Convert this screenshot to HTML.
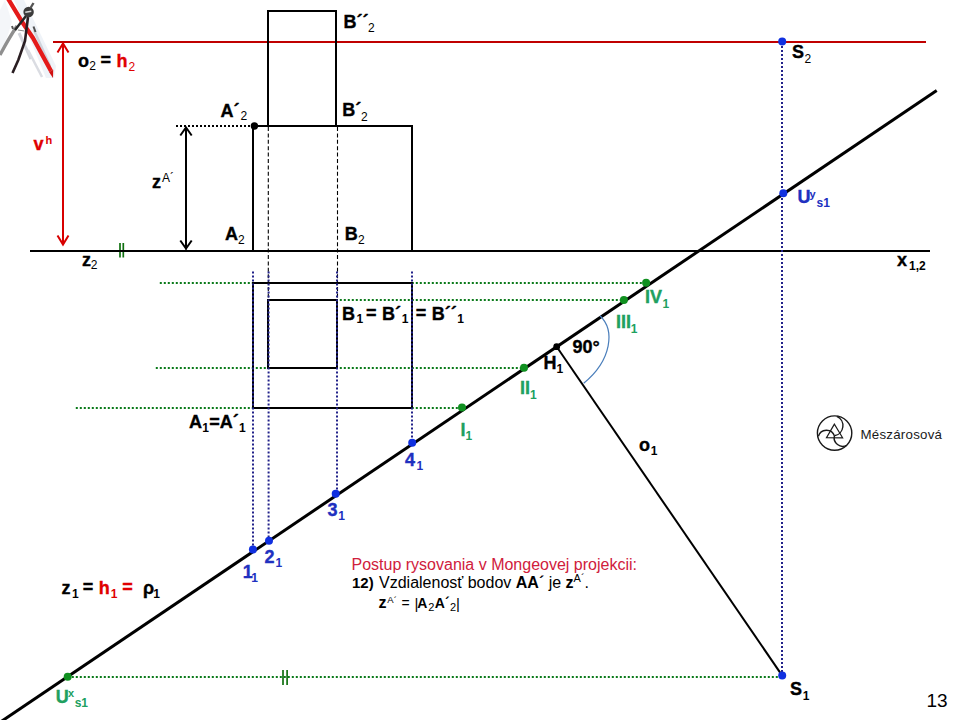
<!DOCTYPE html>
<html><head><meta charset="utf-8"><style>
html,body{margin:0;padding:0;background:#fff;width:960px;height:720px;overflow:hidden}
svg{display:block}
text{font-family:"Liberation Sans",sans-serif}
</style></head><body>
<svg width="960" height="720" viewBox="0 0 960 720">
<g>
<polygon points="14,0 24,0 56,66 54,78 46,78" fill="#eaeff5" opacity="0.75"/>
<polygon points="0,10 5,0 12,22 3,50 0,52" fill="#f0f2f6" opacity="0.7"/>
<line x1="34" y1="30" x2="50" y2="66" stroke="#cfd4dc" stroke-width="2.5"/>
<line x1="19" y1="33" x2="31" y2="59" stroke="#d4d6dc" stroke-width="3"/>
<line x1="28" y1="50" x2="42" y2="77" stroke="#dadce2" stroke-width="2.5"/>
<path d="M8.2 -1 L23 23.3 L33 38 L51 71" stroke="#E41A1A" stroke-width="4.3" fill="none" stroke-linejoin="round"/><polygon points="49,72 53.2,69.8 53,78" fill="#D01010"/>
<path d="M17 26 Q 9 38 0 55" stroke="#8f8f8f" stroke-width="3.3" fill="none"/>
<path d="M12 26 L13 29" stroke="#555" stroke-width="2"/>
<path d="M26 16 L15 30" stroke="#262626" stroke-width="2.5" fill="none"/>
<line x1="18" y1="30" x2="24.5" y2="31" stroke="#8a8a8a" stroke-width="1.2"/>
<path d="M28 17 L25 41 L18.3 60 L12.5 73" stroke="#2a1e22" stroke-width="2.6" fill="none"/>
<line x1="33.5" y1="26.5" x2="35.5" y2="32" stroke="#505050" stroke-width="2"/>
<circle cx="28.6" cy="12" r="5.2" fill="#3c3c3c"/>
<path d="M25.3 12.3 L31.3 11.3" stroke="#d8d8d8" stroke-width="1.4"/>
<line x1="33.5" y1="3" x2="30.5" y2="8" stroke="#555" stroke-width="2.4"/>
</g>
<line x1="159.8" y1="283" x2="646" y2="283" stroke="#0A7A1A" stroke-width="2" stroke-dasharray="2 2" stroke-linecap="butt"/>
<line x1="267.8" y1="300" x2="624" y2="300" stroke="#0A7A1A" stroke-width="2" stroke-dasharray="2 2" stroke-linecap="butt"/>
<line x1="155.8" y1="368" x2="524" y2="368" stroke="#0A7A1A" stroke-width="2" stroke-dasharray="2 2" stroke-linecap="butt"/>
<line x1="75.8" y1="408" x2="462" y2="408" stroke="#0A7A1A" stroke-width="2" stroke-dasharray="2 2" stroke-linecap="butt"/>
<line x1="67.8" y1="677" x2="782" y2="677" stroke="#0A7A1A" stroke-width="2" stroke-dasharray="2 2" stroke-linecap="butt"/>
<line x1="283" y1="670" x2="283" y2="685" stroke="#107010" stroke-width="1.7" stroke-linecap="butt"/>
<line x1="287.1" y1="670" x2="287.1" y2="685" stroke="#107010" stroke-width="1.7" stroke-linecap="butt"/>
<line x1="120" y1="243" x2="120" y2="257.5" stroke="#107010" stroke-width="1.7" stroke-linecap="butt"/>
<line x1="123.3" y1="243" x2="123.3" y2="257.5" stroke="#107010" stroke-width="1.7" stroke-linecap="butt"/>
<line x1="53" y1="42" x2="926" y2="42" stroke="#C00000" stroke-width="2" stroke-linecap="butt"/>
<line x1="63" y1="43" x2="63" y2="245" stroke="#D80000" stroke-width="2" stroke-linecap="butt"/>
<polyline points="57.5,52.5 63,43.5 68.5,52.5" fill="none" stroke="#D80000" stroke-width="2"/>
<polyline points="57.5,235.5 63,244.5 68.5,235.5" fill="none" stroke="#D80000" stroke-width="2"/>
<line x1="30" y1="251" x2="930" y2="251" stroke="#000" stroke-width="2.1" stroke-linecap="butt"/>
<rect x="268" y="11" width="68" height="115" fill="none" stroke="#000" stroke-width="2"/>
<rect x="253" y="126" width="159" height="125" fill="none" stroke="#000" stroke-width="2"/>
<line x1="268.3" y1="127" x2="268.3" y2="300" stroke="#000" stroke-width="1.1" stroke-dasharray="4 2.4" stroke-linecap="butt"/>
<line x1="337.5" y1="127" x2="337.5" y2="300" stroke="#000" stroke-width="1.1" stroke-dasharray="4 2.4" stroke-linecap="butt"/>
<line x1="176" y1="126" x2="253" y2="126" stroke="#000" stroke-width="2" stroke-dasharray="2 2" stroke-linecap="butt"/>
<circle cx="254.4" cy="126" r="3.7" fill="#000"/>
<line x1="186" y1="127" x2="186" y2="249.5" stroke="#000" stroke-width="2" stroke-linecap="butt"/>
<polyline points="180.3,135.5 186,127.5 191.7,135.5" fill="none" stroke="#000" stroke-width="2"/>
<polyline points="180.3,240.5 186,248.5 191.7,240.5" fill="none" stroke="#000" stroke-width="2"/>
<rect x="253" y="283" width="159" height="125" fill="none" stroke="#000" stroke-width="2"/>
<rect x="268" y="300" width="69" height="68" fill="none" stroke="#000" stroke-width="2"/>
<line x1="0" y1="722.3" x2="936.7" y2="90.49584999999996" stroke="#000" stroke-width="3" stroke-linecap="butt"/>
<line x1="556.7" y1="346.7" x2="782.2" y2="675.6" stroke="#000" stroke-width="2" stroke-linecap="butt"/>
<path d="M600 315.8 C 615 330, 612 360, 583.7 383.3" fill="none" stroke="#4A7EBB" stroke-width="1.2"/>
<line x1="253" y1="271.5" x2="253" y2="549.5" stroke="#22228A" stroke-width="2" stroke-dasharray="2 2" stroke-linecap="butt"/>
<line x1="268.6" y1="271.5" x2="268.6" y2="540.8" stroke="#22228A" stroke-width="2" stroke-dasharray="2 2" stroke-linecap="butt"/>
<line x1="337" y1="271.5" x2="337" y2="493.8" stroke="#22228A" stroke-width="2" stroke-dasharray="2 2" stroke-linecap="butt"/>
<line x1="412" y1="271.5" x2="412" y2="442.8" stroke="#22228A" stroke-width="2" stroke-dasharray="2 2" stroke-linecap="butt"/>
<line x1="782" y1="42" x2="782" y2="675.6" stroke="#22228A" stroke-width="2" stroke-dasharray="2 2" stroke-linecap="butt"/>
<circle cx="782.2" cy="41.6" r="4" fill="#1030E0"/>
<circle cx="783.3" cy="193.3" r="4" fill="#1030E0"/>
<circle cx="782.2" cy="675.6" r="4" fill="#1030E0"/>
<circle cx="252.9" cy="549.5" r="4" fill="#1030E0"/>
<circle cx="269" cy="540.8" r="4" fill="#1030E0"/>
<circle cx="335.7" cy="493.8" r="4" fill="#1030E0"/>
<circle cx="412.2" cy="442.8" r="4" fill="#1030E0"/>
<circle cx="646.1" cy="282.8" r="4" fill="#109020"/>
<circle cx="623.9" cy="300" r="4" fill="#109020"/>
<circle cx="524" cy="367.8" r="4" fill="#109020"/>
<circle cx="462" cy="407.6" r="4" fill="#109020"/>
<circle cx="67.7" cy="676.7" r="4" fill="#109020"/>
<circle cx="556.7" cy="346.7" r="3.4" fill="#000"/>
<text x="343.5" y="27.5" font-size="18" font-weight="bold" fill="#000" stroke="#000" stroke-width="0.35">B´´</text>
<text x="368" y="31.7" font-size="12" font-weight="normal" fill="#000">2</text>
<text x="78" y="67" font-size="18" font-weight="bold" fill="#000" stroke="#000" stroke-width="0.35">o</text>
<text x="89.3" y="70.4" font-size="12" font-weight="normal" fill="#000">2</text>
<text x="100.5" y="66" font-size="18" font-weight="bold" fill="#000" stroke="#000" stroke-width="0.35">=</text>
<text x="116.5" y="67" font-size="18" font-weight="bold" fill="#E00000" stroke="#E00000" stroke-width="0.35">h</text>
<text x="128.5" y="70.8" font-size="12" font-weight="normal" fill="#E00000">2</text>
<text x="220.5" y="116.7" font-size="18" font-weight="bold" fill="#000" stroke="#000" stroke-width="0.35">A´</text>
<text x="240.5" y="120.3" font-size="12" font-weight="normal" fill="#000">2</text>
<text x="342.3" y="116.2" font-size="18" font-weight="bold" fill="#000" stroke="#000" stroke-width="0.35">B´</text>
<text x="361" y="121.2" font-size="12" font-weight="normal" fill="#000">2</text>
<text x="33.5" y="149.9" font-size="18" font-weight="bold" fill="#E00000" stroke="#E00000" stroke-width="0.35">v</text>
<text x="45.5" y="144" font-size="11" font-weight="bold" fill="#E00000">h</text>
<text x="152" y="187.8" font-size="18" font-weight="bold" fill="#000" stroke="#000" stroke-width="0.35">z</text>
<text x="162" y="181.9" font-size="12" font-weight="normal" fill="#000">A´</text>
<text x="797.5" y="202.5" font-size="18" font-weight="bold" fill="#2030C0" stroke="#2030C0" stroke-width="0.35">U</text>
<text x="809.5" y="198.3" font-size="11" font-weight="bold" fill="#2030C0">y</text>
<text x="816.5" y="206.7" font-size="12" font-weight="bold" fill="#2030C0">s1</text>
<text x="225" y="240" font-size="18" font-weight="bold" fill="#000" stroke="#000" stroke-width="0.35">A</text>
<text x="238" y="243.7" font-size="12" font-weight="normal" fill="#000">2</text>
<text x="344.7" y="240" font-size="18" font-weight="bold" fill="#000" stroke="#000" stroke-width="0.35">B</text>
<text x="358" y="243.7" font-size="12" font-weight="normal" fill="#000">2</text>
<text x="82" y="265.6" font-size="18" font-weight="bold" fill="#000" stroke="#000" stroke-width="0.35">z</text>
<text x="90.7" y="269" font-size="12" font-weight="normal" fill="#000">2</text>
<text x="897" y="266" font-size="18" font-weight="bold" fill="#000" stroke="#000" stroke-width="0.35">x</text>
<text x="909" y="270" font-size="12" font-weight="bold" fill="#000">1,2</text>
<text x="645" y="303.3" font-size="18" font-weight="bold" fill="#20A060" stroke="#20A060" stroke-width="0.35">IV</text>
<text x="662.5" y="307.8" font-size="12" font-weight="bold" fill="#20A060">1</text>
<text x="616" y="328.3" font-size="18" font-weight="bold" fill="#20A060" stroke="#20A060" stroke-width="0.35">III</text>
<text x="630.7" y="332.8" font-size="12" font-weight="bold" fill="#20A060">1</text>
<text x="342" y="319.8" font-size="18" font-weight="bold" fill="#000" stroke="#000" stroke-width="0.35">B</text>
<text x="356.5" y="323.4" font-size="12" font-weight="bold" fill="#000">1</text>
<text x="366" y="319" font-size="18" font-weight="bold" fill="#000" stroke="#000" stroke-width="0.35">=</text>
<text x="382" y="319.8" font-size="18" font-weight="bold" fill="#000" stroke="#000" stroke-width="0.35">B´</text>
<text x="401.7" y="323.4" font-size="12" font-weight="bold" fill="#000">1</text>
<text x="415.7" y="319" font-size="18" font-weight="bold" fill="#000" stroke="#000" stroke-width="0.35">=</text>
<text x="431.7" y="319.8" font-size="18" font-weight="bold" fill="#000" stroke="#000" stroke-width="0.35">B´´</text>
<text x="457.2" y="323.4" font-size="12" font-weight="bold" fill="#000">1</text>
<text x="572.5" y="352.8" font-size="18" font-weight="bold" fill="#000" stroke="#000" stroke-width="0.35">90°</text>
<text x="543.5" y="369.4" font-size="18" font-weight="bold" fill="#000" stroke="#000" stroke-width="0.35">H</text>
<text x="556.5" y="373.3" font-size="12" font-weight="bold" fill="#000">1</text>
<text x="520" y="394.4" font-size="18" font-weight="bold" fill="#20A060" stroke="#20A060" stroke-width="0.35">II</text>
<text x="530" y="398.6" font-size="12" font-weight="bold" fill="#20A060">1</text>
<text x="460.5" y="436" font-size="18" font-weight="bold" fill="#20A060" stroke="#20A060" stroke-width="0.35">I</text>
<text x="465.5" y="440" font-size="12" font-weight="bold" fill="#20A060">1</text>
<text x="189" y="427.5" font-size="18" font-weight="bold" fill="#000" stroke="#000" stroke-width="0.35">A</text>
<text x="202.3" y="431.7" font-size="12" font-weight="bold" fill="#000">1</text>
<text x="209.3" y="427.8" font-size="18" font-weight="bold" fill="#000" stroke="#000" stroke-width="0.35">=</text>
<text x="219.7" y="427.5" font-size="18" font-weight="bold" fill="#000" stroke="#000" stroke-width="0.35">A´</text>
<text x="239" y="431.7" font-size="12" font-weight="bold" fill="#000">1</text>
<text x="639" y="450.9" font-size="18" font-weight="bold" fill="#000" stroke="#000" stroke-width="0.35">o</text>
<text x="650.7" y="454.7" font-size="12" font-weight="bold" fill="#000">1</text>
<text x="405" y="465.6" font-size="18" font-weight="bold" fill="#2030C0" stroke="#2030C0" stroke-width="0.35">4</text>
<text x="416.5" y="470" font-size="12" font-weight="bold" fill="#2030C0">1</text>
<text x="327.5" y="516" font-size="18" font-weight="bold" fill="#2030C0" stroke="#2030C0" stroke-width="0.35">3</text>
<text x="338.3" y="519.7" font-size="12" font-weight="bold" fill="#2030C0">1</text>
<text x="264.5" y="562.5" font-size="18" font-weight="bold" fill="#2030C0" stroke="#2030C0" stroke-width="0.35">2</text>
<text x="275.5" y="567" font-size="12" font-weight="bold" fill="#2030C0">1</text>
<text x="242.7" y="577.8" font-size="18" font-weight="bold" fill="#2030C0" stroke="#2030C0" stroke-width="0.35">1</text>
<text x="251.2" y="581.6" font-size="12" font-weight="bold" fill="#2030C0">1</text>
<text x="61.5" y="593.5" font-size="18" font-weight="bold" fill="#000" stroke="#000" stroke-width="0.35">z</text>
<text x="72" y="597.5" font-size="12" font-weight="bold" fill="#000">1</text>
<text x="82.7" y="593" font-size="18" font-weight="bold" fill="#000" stroke="#000" stroke-width="0.35">=</text>
<text x="98.8" y="593.5" font-size="18" font-weight="bold" fill="#E00000" stroke="#E00000" stroke-width="0.35">h</text>
<text x="110.8" y="597.5" font-size="12" font-weight="bold" fill="#E00000">1</text>
<text x="122.3" y="593" font-size="18" font-weight="bold" fill="#E00000" stroke="#E00000" stroke-width="0.35">=</text>
<text x="143" y="593.5" font-size="18" font-weight="bold" fill="#000" stroke="#000" stroke-width="0.35">ρ</text>
<text x="153.3" y="597.5" font-size="12" font-weight="bold" fill="#000">1</text>
<text x="55.7" y="702.7" font-size="18" font-weight="bold" fill="#20A060" stroke="#20A060" stroke-width="0.35">U</text>
<text x="68" y="696.5" font-size="11" font-weight="bold" fill="#20A060">x</text>
<text x="74.7" y="707" font-size="12" font-weight="bold" fill="#20A060">s1</text>
<text x="792" y="58.3" font-size="18" font-weight="bold" fill="#000" stroke="#000" stroke-width="0.35">S</text>
<text x="804.5" y="62.5" font-size="12" font-weight="normal" fill="#000">2</text>
<text x="790" y="695.3" font-size="18" font-weight="bold" fill="#000" stroke="#000" stroke-width="0.35">S</text>
<text x="802.8" y="700" font-size="12" font-weight="bold" fill="#000">1</text>
<text x="926.5" y="706.7" font-size="19" font-weight="normal" fill="#000">13</text>
<g fill="none" stroke="#1a1a1a" stroke-width="1.4">
<circle cx="834.6" cy="433.1" r="17.2"/>
<path d="M834.4 435.8 A 10.2 10.2 0 0 0 836.8 416.4"/>
<path d="M834.4 435.8 A 8.4 8.4 0 0 0 818.4 436.3"/>
<path d="M834.4 435.8 A 8.6 8.6 0 0 0 846.7 445.4"/>
<polygon points="834.4,424.1 826.5,437.6 842.6,437.8" stroke-width="1.2"/>
</g>
<text x="860.5" y="438.8" font-size="13.3" font-weight="normal" fill="#1a1a1a" textLength="81.5">Mészárosová</text>
<text x="351.5" y="570" font-size="16" font-weight="normal" fill="#D0203C">Postup rysovania  v Mongeovej  projekcii:</text>
<text x="352" y="588.3" font-size="15" font-weight="bold" fill="#000">12)</text>
<text x="379" y="588.3" font-size="16" font-weight="normal" fill="#000">Vzdialenosť bodov <tspan font-weight="bold">AA´</tspan> je <tspan font-weight="bold">z</tspan><tspan font-size="11" dy="-6">A´</tspan><tspan dy="6">.</tspan></text>
<text x="378.5" y="607.8" font-size="16" font-weight="bold" fill="#000">z</text>
<text x="387.3" y="602.7" font-size="9.5" font-weight="normal" fill="#000">A´</text>
<text x="401.5" y="607.5" font-size="14" font-weight="normal" fill="#000">=</text>
<text x="414.6" y="609" font-size="15" font-weight="normal" fill="#000">|</text>
<text x="417.2" y="607.8" font-size="14" font-weight="bold" fill="#000">A</text>
<text x="428.2" y="610.6" font-size="11" font-weight="normal" fill="#000">2</text>
<text x="434.8" y="607.8" font-size="14" font-weight="bold" fill="#000">A´</text>
<text x="450" y="610.6" font-size="11" font-weight="normal" fill="#000">2</text>
<text x="456" y="609" font-size="15" font-weight="normal" fill="#000">|</text>
</svg></body></html>
